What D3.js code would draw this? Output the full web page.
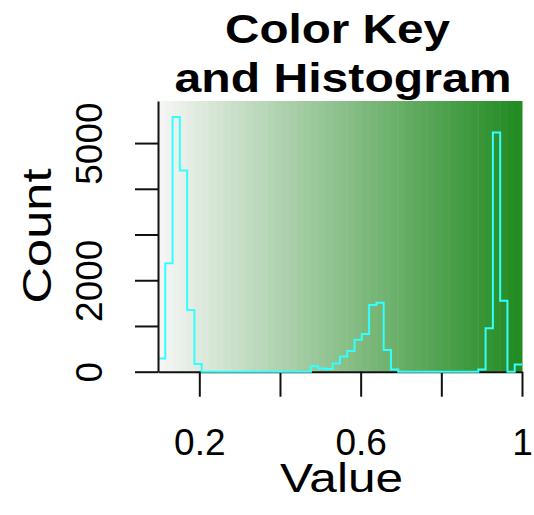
<!DOCTYPE html>
<html>
<head>
<meta charset="utf-8">
<script src="https://cdnjs.cloudflare.com/ajax/libs/d3/7.8.5/d3.min.js"></script>
<style>
  body { margin: 0; background: #fff; }
  text { font-family: 'Liberation Sans', Arial, Helvetica, sans-serif; fill: #000; }
</style>
</head>
<body>
<div id="chart"></div>
<script>
// colour key range and histogram counts (50 equal bins)
var valueMin = 0.0976;
var valueMax = 1.0;
var counts = [290, 2370, 5570, 4400, 1350, 170, 0, 0, 0, 0,
              0, 0, 0, 0, 0, 0, 0, 0, 0, 0,
              0, 125, 70, 60, 180, 330, 450, 700, 825, 1460,
              1510, 475, 50, 0, 0, 0, 0, 0, 0, 0,
              0, 0, 0, 0, 50, 950, 5230, 1550, 0, 160];
var keyColors = ['#F5F5F5', '#228B22'];
var xTicks = [0.2, 0.4, 0.6, 0.8, 1.0];
var xTickLabels = ['0.2', '', '0.6', '', '1'];
var yTicks = [0, 1000, 2000, 3000, 4000, 5000];
var yTickLabels = ['0', '', '2000', '', '', '5000'];
var yTop = 5920;

var width = 534, height = 515;
var plotLeft = 158, plotRight = 522, plotTop = 101, plotBottom = 371.7;

var svg = d3.select('#chart')
            .append('svg')
            .attr('width', width)
            .attr('height', height);

var x = d3.scaleLinear().domain([valueMin, valueMax]).range([plotLeft, plotRight]);
var y = d3.scaleLinear().domain([0, yTop]).range([plotBottom, plotTop]);
var binValue = d3.scaleLinear().domain([0, counts.length]).range([valueMin, valueMax]);
var color = d3.scaleLinear()
              .domain([0, counts.length - 1])
              .range(keyColors)
              .interpolate(d3.interpolateRgb);

var edges = d3.range(counts.length + 1).map(binValue);

// colour key
svg.append('g')
   .selectAll('rect')
   .data(counts)
   .enter()
   .append('rect')
   .attr('x', function(d, i){return x(edges[i]);})
   .attr('y', plotTop)
   .attr('width', function(d, i){return x(edges[i + 1]) - x(edges[i]) + 0.5;})
   .attr('height', plotBottom - plotTop)
   .style('fill', function(d, i){return color(i);});

// x axis
var xAxis = svg.append('g')
               .attr('transform', 'translate(0,' + plotBottom + ')')
               .call(d3.axisBottom(x)
                       .tickValues(xTicks)
                       .tickSize(25)
                       .tickSizeOuter(0)
                       .tickFormat(function(d, i){return xTickLabels[i];}));
xAxis.selectAll('path, line').style('stroke', '#111').style('stroke-width', 2);
xAxis.selectAll('text')
     .attr('y', 455 - plotBottom)
     .attr('dy', null)
     .style('font-size', '37px')
     .style('fill', '#000');

// histogram outline
var step = d3.line()
             .x(function(d){return x(d[0]);})
             .y(function(d){return y(d[1]);})
             .curve(d3.curveStepAfter);
var hist = edges.map(function(e, i){return [e, counts[Math.min(i, counts.length - 1)]];});
svg.append('path')
   .datum(hist)
   .attr('d', step)
   .style('fill', 'none')
   .style('stroke', '#33FFFF')
   .style('stroke-width', 2);

// y axis
var yAxis = svg.append('g')
               .attr('transform', 'translate(' + plotLeft + ',0)')
               .call(d3.axisLeft(y)
                       .tickValues(yTicks)
                       .tickSize(23)
                       .tickSizeOuter(0)
                       .tickFormat(function(d, i){return yTickLabels[i];}));
yAxis.selectAll('path, line').style('stroke', '#111').style('stroke-width', 2);
yAxis.selectAll('text')
     .attr('x', 0)
     .attr('dy', null)
     .attr('text-anchor', 'middle')
     .attr('transform', 'translate(' + (101.7 - plotLeft) + ',0) rotate(-90)')
     .style('font-size', '37px')
     .style('fill', '#000');

// titles
svg.append('text')
   .attr('x', 337.5).attr('y', 43)
   .attr('text-anchor', 'middle')
   .attr('textLength', 225).attr('lengthAdjust', 'spacingAndGlyphs')
   .style('font-size', '41px').style('font-weight', 'bold')
   .text('Color Key');
svg.append('text')
   .attr('x', 343).attr('y', 92)
   .attr('text-anchor', 'middle')
   .attr('textLength', 337).attr('lengthAdjust', 'spacingAndGlyphs')
   .style('font-size', '40px').style('font-weight', 'bold')
   .text('and Histogram');
svg.append('text')
   .attr('x', 341.5).attr('y', 491.7)
   .attr('text-anchor', 'middle')
   .attr('textLength', 123).attr('lengthAdjust', 'spacingAndGlyphs')
   .style('font-size', '40px')
   .text('Value');
svg.append('text')
   .attr('transform', 'translate(51,236) rotate(-90)')
   .attr('text-anchor', 'middle')
   .attr('textLength', 135).attr('lengthAdjust', 'spacingAndGlyphs')
   .style('font-size', '41px')
   .text('Count');
</script>
</body>
</html>
